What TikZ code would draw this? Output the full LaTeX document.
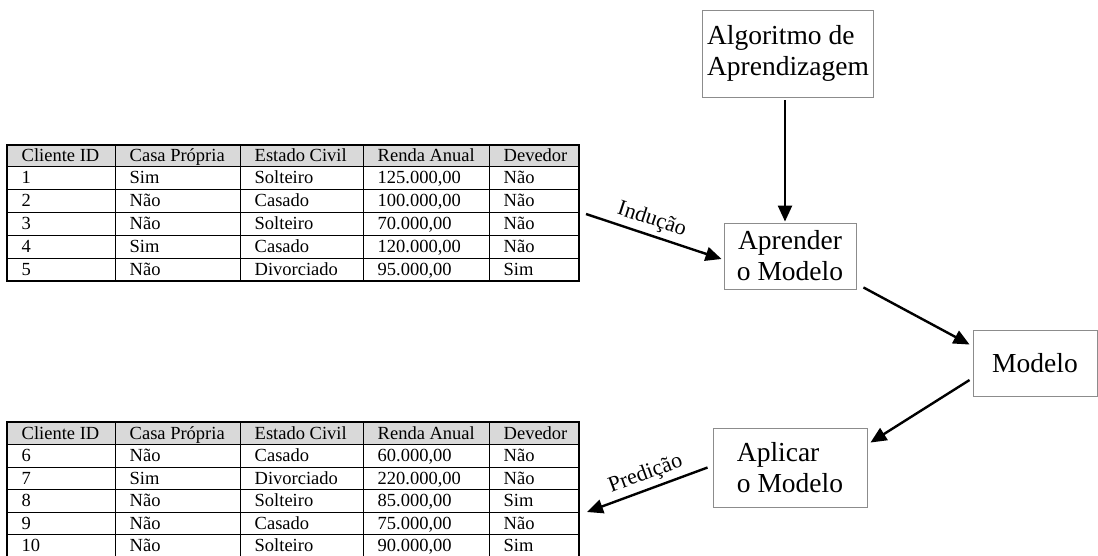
\documentclass[tikz,border=0pt]{standalone}
\usepackage{fontspec}
\setmainfont{Liberation Serif}
\usetikzlibrary{arrows.meta,calc}
\tikzset{
  cell/.style={anchor=base west, inner sep=0pt, font=\fontsize{18.5}{20}\selectfont},
  box/.style={draw=black!45, line width=0.9pt, font=\fontsize{27.5}{31}\selectfont, inner sep=0pt},
  arr/.style={line width=2.4pt, -{Triangle[length=16pt,width=14pt]}},
  arrl/.style={line width=2.4pt, {Triangle[length=16pt,width=14pt]}-},
  lbl/.style={font=\fontsize{22}{24}\selectfont, inner sep=2pt},
  gridline/.style={line width=1pt},
  outerline/.style={line width=1.6pt},
  headfill/.style={fill=gray!30}
}
\newcommand\trow[7]{%
  \node[cell] (#1-1) at (21.5,#2) {#3};
  \node[cell] (#1-2) at (129.5,#2) {#4};
  \node[cell] (#1-3) at (254.5,#2) {#5};
  \node[cell] (#1-4) at (377.5,#2) {#6};
  \node[cell] (#1-5) at (503.5,#2) {#7};
}
\begin{document}
\begin{tikzpicture}[x=1pt,y=-1pt]
\useasboundingbox (0,0) rectangle (1098,555);
\fill[white] (0,0) rectangle (1098,555);

% ---------- top table ----------
\fill[headfill] (7,145) rectangle (579,166.5);
\foreach \y in {166.5,189.4,212.3,235.2,258.1} \draw[gridline] (7,\y) -- (579,\y);
\foreach \x in {115,240,363,489} \draw[gridline] (\x,145) -- (\x,281);
\draw[outerline] (7,145) rectangle (579,281);
\trow{ah}{161}{Cliente ID}{Casa Própria}{Estado Civil}{Renda Anual}{Devedor}
\trow{a1}{183.9}{1}{Sim}{Solteiro}{125.000,00}{Não}
\trow{a2}{206.8}{2}{Não}{Casado}{100.000,00}{Não}
\trow{a3}{229.7}{3}{Não}{Solteiro}{70.000,00}{Não}
\trow{a4}{252.6}{4}{Sim}{Casado}{120.000,00}{Não}
\trow{a5}{275.5}{5}{Não}{Divorciado}{95.000,00}{Sim}

% ---------- bottom table ----------
\fill[headfill] (7,422) rectangle (579,444.5);
\foreach \y in {444.5,467,489.5,512,534.5} \draw[gridline] (7,\y) -- (579,\y);
\foreach \x in {115,240,363,489} \draw[gridline] (\x,422) -- (\x,557);
\draw[outerline] (7,422) rectangle (579,557);
\trow{bh}{439}{Cliente ID}{Casa Própria}{Estado Civil}{Renda Anual}{Devedor}
\trow{b1}{461.5}{6}{Não}{Casado}{60.000,00}{Não}
\trow{b2}{484}{7}{Sim}{Divorciado}{220.000,00}{Não}
\trow{b3}{506.5}{8}{Não}{Solteiro}{85.000,00}{Sim}
\trow{b4}{529}{9}{Não}{Casado}{75.000,00}{Não}
\trow{b5}{551.5}{10}{Não}{Solteiro}{90.000,00}{Sim}

% ---------- boxes ----------
\node[box, minimum width=171pt, minimum height=87pt, align=left] (alg) at (788,53.5) {Algoritmo de\\Aprendizagem};
\node[box, minimum width=132pt, minimum height=66pt, align=center] (apr) at (790,256) {Aprender\\o Modelo};
\node[box, minimum width=124pt, minimum height=66pt] (mod) at (1035,363) {Modelo};
\node[box, minimum width=154pt, minimum height=79pt, align=left] (apl) at (790,467.5) {Aplicar\\o Modelo};

% ---------- connectors ----------
\coordinate (indS) at (586,214);
\coordinate (preE) at (587,512);
\draw[arr] ([xshift=-3pt,yshift=-3pt]alg.south) -- ([xshift=-5pt,yshift=1pt]apr.north);
\draw[arr] (indS) -- node[lbl, sloped, above=2pt, pos=0.45] {Indução} ([xshift=-2pt,yshift=-3pt]apr.west);
\draw[arr] ([xshift=7pt,yshift=2pt]apr.south east) -- ([xshift=-3pt,yshift=-15pt]mod.north west);
\draw[arr] ([xshift=-3pt,yshift=-17pt]mod.west) -- ([xshift=3pt,yshift=-15pt]apl.north east);
\draw[arrl] (preE) -- node[lbl, sloped, above=2pt, pos=0.53] {Predição} ([xshift=-5pt]apl.west);
\end{tikzpicture}
\end{document}
